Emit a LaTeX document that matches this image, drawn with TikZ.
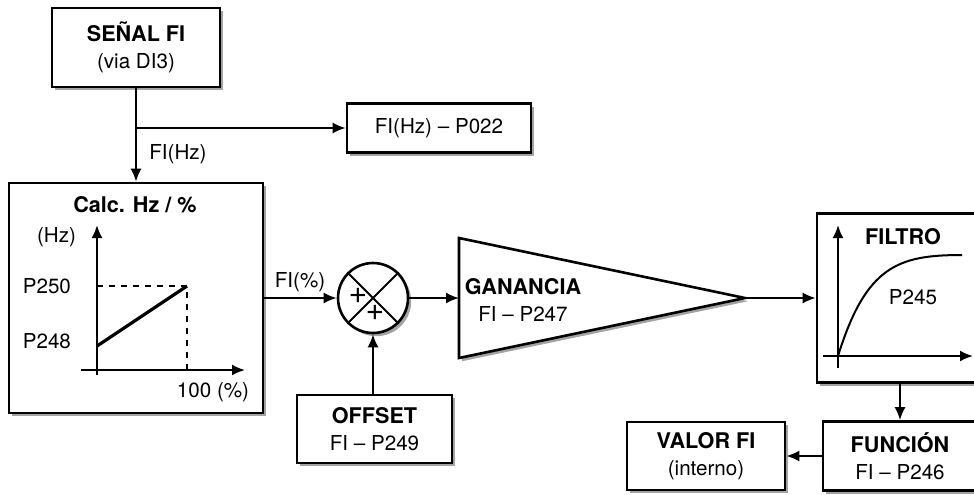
\documentclass[tikz,border=0pt]{standalone}
\usepackage{fontspec}
\setmainfont{TeX Gyre Heros}
\usepackage{tikz}
\usetikzlibrary{arrows.meta,positioning,calc,shadows}
\definecolor{shadowgray}{HTML}{8C8C8C}

\tikzset{
  blk/.style={draw, line width=1.3pt, fill=white, align=center, inner sep=0pt,
    drop shadow={shadow xshift=1.6pt, shadow yshift=-1.6pt, fill=shadowgray, opacity=0.8}},
  sig/.style={line width=1pt, -{Latex[length=6.5pt,width=5.5pt]}},
  axis/.style={line width=1pt, -{Latex[length=6.5pt,width=5.5pt]}},
}
\newcommand{\hdr}[1]{{\fontsize{10.8}{13}\selectfont\bfseries #1}}

\begin{document}
\begin{tikzpicture}[x=0.5pt, y=-0.5pt, every node/.style={font=\fontsize{10.3}{13.5}\selectfont}]
\clip (0,0) rectangle (974,494);

% input side
\node[blk, minimum width=84pt, minimum height=39.5pt] (senal) at (136,47.5) {\hdr{SEÑAL FI}\\(via DI3)};
\node[blk, minimum width=92pt, minimum height=24.5pt] (p022) at (439,128) {FI(Hz) – P022};
\node[blk, minimum width=127pt, minimum height=115pt] (calc) at (136,298) {};
\coordinate (jn) at (136,128);
\draw[sig] (senal.south) -- (calc.north);
\draw[sig] (jn) -- (jn -| p022.west);
\node (fihz) at (178,154) {FI(Hz)};

% Hz -> % curve
\node (calcT) at (135,205) {\hdr{Calc. Hz / \%}};
\draw[axis] (97,375) -- (97,225);
\draw[axis] (81,370) -- (245,370);
\draw[dashed, line width=0.8pt] (97,286) -- (187,286) -- (187,370);
\draw[line width=1.6pt] (97,346) -- (187,286);
\node[anchor=east] (hzlbl) at (83,237) {(Hz)};
\node[anchor=east] (p250) at (78,286) {P250};
\node[anchor=east] (p248) at (78,341) {P248};
\node (pct) at (213,392) {100 (\%)};

% sum + offset
\node[blk, circle, minimum size=35pt] (sum) at (373,298) {};
\draw[line width=1pt] (sum.north west) -- (sum.south east);
\draw[line width=1pt] (sum.north east) -- (sum.south west);
\node[font=\fontsize{16}{16}\selectfont, inner sep=0pt] (plA) at (358,296) {+};
\node[font=\fontsize{16}{16}\selectfont, inner sep=0pt] (plB) at (375,313) {+};
\draw[sig] (calc.east) -- (sum.west);
\node (fipct) at (300,282) {FI(\%)};
\node[blk, minimum width=77.5pt, minimum height=34pt] (offset) at (374.5,429) {\hdr{OFFSET}\\FI – P249};
\draw[sig] (sum.south |- offset.north) -- (sum.south);

% gain
\coordinate (gtop) at (459,238);
\coordinate (gbot) at (459,358);
\coordinate (gtip) at (745,298);
\coordinate (gin) at (459,298);
\draw[line width=1.3pt, fill=white, drop shadow={shadow xshift=1.6pt, shadow yshift=-1.6pt, fill=shadowgray, opacity=0.8}]
  (gtop) -- (gtip) -- (gbot) -- cycle;
\node[align=center] (gtxt) at (523,300) {\hdr{GANANCIA}\\FI – P247};
\draw[sig] (sum.east) -- (gin);

% filter
\node[blk, minimum width=86.5pt, minimum height=84.5pt] (filtro) at (903.5,298) {};
\draw[sig] (gtip) -- (gtip -| filtro.west);
\draw[axis] (838,368) -- (838,225);
\draw[axis] (823,356) -- (973,356);
\draw[line width=1pt] (838,356) .. controls (866,266) and (898,255) .. (962,255);
\node (filtT) at (903,237) {\hdr{FILTRO}};
\node (p245) at (913,297) {P245};

% output
\node[blk, minimum width=77pt, minimum height=34.5pt] (funcion) at (900,456) {\hdr{FUNCIÓN}\\FI – P246};
\node[blk, minimum width=79pt, minimum height=34pt] (valor) at (706,456) {\hdr{VALOR FI}\\(interno)};
\draw[sig] (funcion.north |- filtro.south) -- (funcion.north);
\draw[sig] (funcion.west) -- (valor.east);
\end{tikzpicture}
\end{document}
